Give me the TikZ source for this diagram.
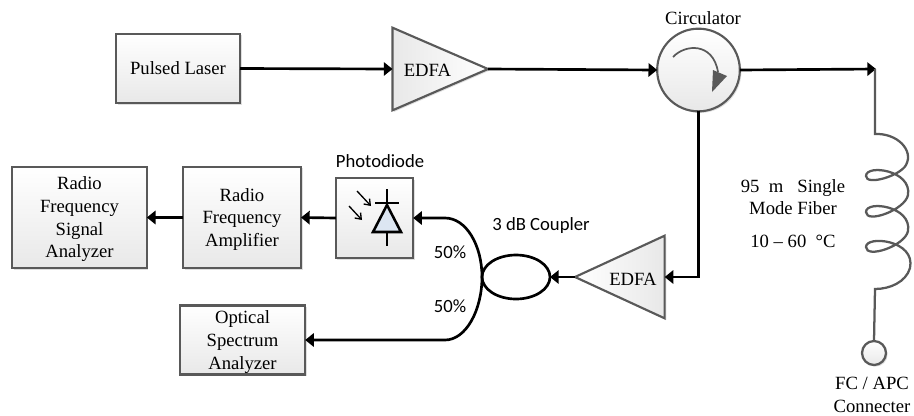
\documentclass[tikz,border=0pt]{standalone}
\usepackage{fontspec}
\setmainfont{Liberation Serif}
\setsansfont{Carlito}
\usetikzlibrary{arrows.meta, positioning, shapes.geometric, calc, shadows}
\definecolor{boxgrey}{HTML}{595959}
\definecolor{fillgrey}{HTML}{E8E8E8}
\definecolor{diodeblue}{HTML}{DCE6F2}
\tikzset{
  softshadow/.style={drop shadow={opacity=.25,shadow xshift=1.2pt,shadow yshift=-1.2pt}},
  blockbox/.style={draw=boxgrey,line width=1.9pt,top color=white,bottom color=fillgrey,softshadow,align=center,inner sep=0pt,text depth=0pt,font=\fontsize{14}{17}\selectfont},
  ampbox/.style={draw=boxgrey,line width=1.6pt,softshadow,isosceles triangle,minimum height=0pt,inner sep=0pt,anchor=apex},
  fiberline/.style={line width=2pt,-{Triangle[length=6.5pt,width=10pt]}},
  coilline/.style={draw=boxgrey,line width=1.7pt},
  lbl/.style={font=\fontsize{14}{17}\selectfont,align=center},
  sanslbl/.style={font=\sffamily\fontsize{14}{17}\selectfont}
}
\begin{document}
\begin{tikzpicture}[x=0.75pt,y=-0.75pt,every node/.append style={outer sep=0pt}]
  \useasboundingbox (0,0) rectangle (914,415);
  % top row
  \node[blockbox,minimum width=93pt,minimum height=52pt] (laser) at (178,68.5) {Pulsed Laser};
  \node[ampbox,isosceles triangle apex angle=46.8,minimum width=62pt,left color=fillgrey,right color=white] (edfatop) at (488,69) {};
  \node[lbl] (edfatoplbl) at (427.5,70) {EDFA};
  \node[draw=boxgrey,line width=1.6pt,circle,top color=white,bottom color=fillgrey,softshadow,minimum size=62pt,inner sep=0pt] (circ) at (698.5,70) {};
  \node[lbl] (circlbl) at (703,18) {Circulator};
  \coordinate (fibertop) at (876,69);
  \draw[fiberline] (laser.east) -- (edfatop.lower side);
  \draw[fiberline] (edfatop.apex) -- (circ.west);
  \draw[fiberline] (circ.east) -- (fibertop);
  % arrow inside circulator
  \draw[boxgrey,line width=1.3pt] (673,57) .. controls (685,44) and (713,42) .. (718,72);
  \fill[boxgrey] (727,76) -- (712,92) -- (713,70) -- cycle;
  % fibre coil
  \node[draw=boxgrey,line width=1.7pt,circle,top color=white,bottom color=fillgrey,softshadow,minimum size=18pt,inner sep=0pt] (fc) at (874,353) {};
  \draw[coilline] (875,69) -- (875,134)
    .. controls (897,133) and (914,150) .. (906,165)
    .. controls (900,176) and (866,186) .. (866,176)
    .. controls (866,164) and (912,170) .. (908,195)
    .. controls (905,210) and (866,224) .. (866,212)
    .. controls (866,200) and (912,206) .. (908,231)
    .. controls (905,246) and (866,259) .. (866,247)
    .. controls (866,235) and (916,240) .. (910,268)
    .. controls (906,282) and (890,289) .. (875,289) -- (fc.north);
  \node[lbl] (fclbl) at (872,395) {FC / APC\\Connecter};
  \node[lbl] (fiberlbl) at (793,197) {95~ m~~ Single\\Mode Fiber};
  \node[lbl] (templbl) at (793,241) {10 -- 60~ °C};
  % lower row
  \node[ampbox,shape border rotate=180,isosceles triangle apex angle=49.5,minimum width=62pt,left color=white,right color=fillgrey] (edfalow) at (575,277) {};
  \node[lbl] (edfalowlbl) at (633,279) {EDFA};
  \node[blockbox,minimum width=88.5pt,minimum height=76pt] (rfa) at (242,217.5) {Radio\\Frequency\\Amplifier};
  \node[blockbox,minimum width=101pt,minimum height=76pt] (rfsa) at (79.5,217.5) {Radio\\Frequency\\Signal\\Analyzer};
  \node[blockbox,minimum width=94pt,minimum height=52pt] (osa) at (242.5,340) {Optical\\Spectrum\\Analyzer};
  \node[blockbox,minimum width=58pt,minimum height=60pt] (pd) at (374.5,218) {};
  \node[sanslbl] (pdlbl) at (380,161) {Photodiode};
  \node[draw,line width=2pt,ellipse,minimum width=51pt,minimum height=33pt,inner sep=0pt] (coup) at (516,277) {};
  \node[sanslbl] (couplbl) at (541,226) {3 dB Coupler};
  \node[sanslbl] (pctop) at (450,252) {50\%};
  \node[sanslbl] (pcbot) at (450,306) {50\%};
  % photodiode symbol
  \draw[line width=1pt] (387,189) -- (387,246);
  \draw[line width=1pt] (375,203) -- (399,203);
  \draw[line width=1.9pt,fill=diodeblue,line join=miter] (387,205) -- (401,232) -- (373,232) -- cycle;
  \draw[line width=1pt,-{Straight Barb[length=4pt,width=6pt]}] (357,191) -- (371,206);
  \draw[line width=1pt,-{Straight Barb[length=4pt,width=6pt]}] (349,206) -- (362,220);
  % connectors
  \draw[fiberline] (circ.south) |- (edfalow.lower side);
  \draw[fiberline] (edfalow.apex) -- (coup.east);
  \draw[fiberline] (coup.west) .. controls (482,245) and (466,218) .. (445,218) -- (pd.east);
  \draw[fiberline] (coup.west) .. controls (482,310) and (466,340) .. (445,340) -- (osa.east);
  \draw[fiberline] (pd.west) -- (rfa.east);
  \draw[fiberline] (rfa.west) -- (rfsa.east);
\end{tikzpicture}
\end{document}
